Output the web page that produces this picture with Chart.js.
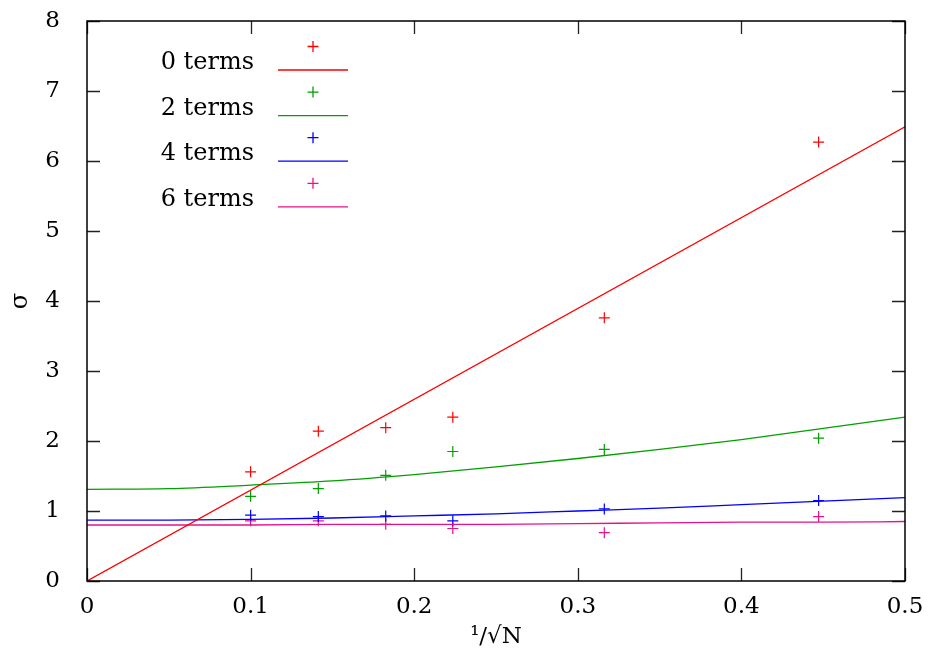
<!DOCTYPE html>
<html>
<head>
<meta charset="utf-8">
<script src="https://cdn.jsdelivr.net/npm/chart.js@4/dist/chart.umd.min.js"></script>
<style>
  html, body { margin: 0; padding: 0; background: #fff; }
  #wrap { width: 928px; height: 655px; }
</style>
</head>
<body>
<div id="wrap"><canvas id="chart" width="928" height="655"></canvas></div>
<script>
// measured points, x = 1/sqrt(N)
const xPoints = [0.1, 0.1414, 0.1826, 0.2236, 0.3162, 0.4472];
const sigma0 = [1.56, 2.14, 2.19, 2.34, 3.76, 6.27];
const sigma2 = [1.21, 1.32, 1.51, 1.85, 1.88, 2.04];
const sigma4 = [0.94, 0.92, 0.93, 0.86, 1.03, 1.15];
const sigma6 = [0.86, 0.86, 0.81, 0.75, 0.69, 0.92];

// fitted curves
const fit0X = [0, 0.5];
const fit0 = [0, 6.49];
const fitX = [0, 0.05, 0.1, 0.15, 0.2, 0.25, 0.3, 0.35, 0.4, 0.45, 0.5];
const fit2 = [1.31, 1.32, 1.37, 1.43, 1.52, 1.63, 1.75, 1.88, 2.02, 2.18, 2.34];
const fit4 = [0.87, 0.87, 0.88, 0.90, 0.93, 0.96, 1.00, 1.04, 1.09, 1.14, 1.19];
const fit6 = [0.80, 0.80, 0.80, 0.81, 0.81, 0.81, 0.82, 0.83, 0.84, 0.84, 0.85];

const seriesNames = ['0 terms', '2 terms', '4 terms', '6 terms'];
const seriesColors = ['#ff0000', '#00a000', '#0000ff', '#e8108c'];

const xTickValues = [0, 0.1, 0.2, 0.3, 0.4, 0.5];
const xTickLabels = ['0', '0.1', '0.2', '0.3', '0.4', '0.5'];
const yTickValues = [0, 1, 2, 3, 4, 5, 6, 7, 8];
const yTickLabels = ['0', '1', '2', '3', '4', '5', '6', '7', '8'];

const FONT = '"DejaVu Serif", "Liberation Serif", serif';

function pairs(xs, ys) {
    return xs.map(function (x, i) { return { x: x, y: ys[i] }; });
}

const pointSets = [sigma0, sigma2, sigma4, sigma6];
const fitSets = [[fit0X, fit0], [fitX, fit2], [fitX, fit4], [fitX, fit6]];

const datasets = [];
fitSets.forEach(function (f, i) {
    datasets.push({
        label: seriesNames[i] + ' fit',
        data: pairs(f[0], f[1]),
        showLine: true,
        borderColor: seriesColors[i],
        borderWidth: 1.3,
        pointRadius: 0,
        tension: 0.4,
        cubicInterpolationMode: 'monotone',
        fill: false
    });
});
pointSets.forEach(function (ys, i) {
    datasets.push({
        label: seriesNames[i],
        data: pairs(xPoints, ys),
        showLine: false,
        pointStyle: 'cross',
        pointRadius: 5.5,
        borderColor: seriesColors[i],
        backgroundColor: seriesColors[i],
        pointBorderWidth: 1.2
    });
});

// no extra padding for the end labels, the layout padding pins the box
function noPad(s) {
    s.paddingTop = 0; s.paddingBottom = 0;
    s.paddingLeft = 0; s.paddingRight = 0;
}

// frame, inward ticks on all four sides, and the key
const framePlugin = {
    id: 'frame',
    afterDraw: function (chart) {
        const ctx = chart.ctx;
        const a = chart.chartArea;
        const xs = chart.scales.x, ys = chart.scales.y;
        const tl = 13;
        ctx.save();
        ctx.strokeStyle = '#222';
        ctx.lineWidth = 1.3;
        xTickValues.forEach(function (v) {
            const px = Math.round(xs.getPixelForValue(v)) + 0.5;
            ctx.beginPath();
            ctx.moveTo(px, a.bottom); ctx.lineTo(px, a.bottom - tl);
            ctx.moveTo(px, a.top); ctx.lineTo(px, a.top + tl);
            ctx.stroke();
        });
        yTickValues.forEach(function (v) {
            const py = Math.round(ys.getPixelForValue(v)) + 0.5;
            ctx.beginPath();
            ctx.moveTo(a.left, py); ctx.lineTo(a.left + tl, py);
            ctx.moveTo(a.right, py); ctx.lineTo(a.right - tl, py);
            ctx.stroke();
        });
        ctx.strokeStyle = '#000';
        ctx.lineWidth = 1.5;
        ctx.strokeRect(a.left, a.top, a.right - a.left, a.bottom - a.top);

        // key
        ctx.font = '24px ' + FONT;
        ctx.textAlign = 'right';
        ctx.textBaseline = 'alphabetic';
        seriesNames.forEach(function (name, i) {
            const base = 69 + i * 45.6;
            ctx.fillStyle = '#000';
            ctx.fillText(name, 254, base);
            ctx.strokeStyle = seriesColors[i];
            ctx.lineWidth = 1.3;
            ctx.beginPath();
            ctx.moveTo(278, base + 1); ctx.lineTo(348, base + 1);
            const cy = base - 22.5;
            ctx.moveTo(313 - 5.5, cy); ctx.lineTo(313 + 5.5, cy);
            ctx.moveTo(313, cy - 5.5); ctx.lineTo(313, cy + 5.5);
            ctx.stroke();
        });
        ctx.restore();
    }
};

new Chart(document.getElementById('chart').getContext('2d'), {
    type: 'scatter',
    data: { datasets: datasets },
    plugins: [framePlugin],
    options: {
        responsive: false,
        animation: false,
        layout: { autoPadding: false, padding: { top: 21, right: 23, left: 0, bottom: 0 } },
        plugins: { legend: { display: false }, tooltip: { enabled: false } },
        scales: {
            x: {
                type: 'linear',
                min: 0, max: 0.5,
                border: { display: false },
                grid: { display: false, drawTicks: false },
                ticks: {
                    stepSize: 0.1,
                    padding: 12,
                    color: '#000',
                    font: { family: FONT, size: 23 },
                    maxRotation: 0,
                    callback: function (v, i) { return xTickLabels[i]; }
                },
                title: {
                    display: true,
                    text: '¹/√N',
                    color: '#000',
                    font: { family: FONT, size: 23 },
                    padding: { top: 0, bottom: 4 }
                },
                afterFit: function (s) { s.height = 74; noPad(s); }
            },
            y: {
                type: 'linear',
                min: 0, max: 8,
                border: { display: false },
                grid: { display: false, drawTicks: false },
                ticks: {
                    stepSize: 1,
                    padding: 27,
                    color: '#000',
                    font: { family: FONT, size: 23 },
                    callback: function (v, i) { return yTickLabels[i]; }
                },
                title: {
                    display: true,
                    text: 'σ',
                    color: '#000',
                    font: { family: FONT, size: 24 },
                    padding: { top: 6, bottom: 0 }
                },
                afterFit: function (s) { s.width = 87; noPad(s); }
            }
        }
    }
});
</script>
</body>
</html>
